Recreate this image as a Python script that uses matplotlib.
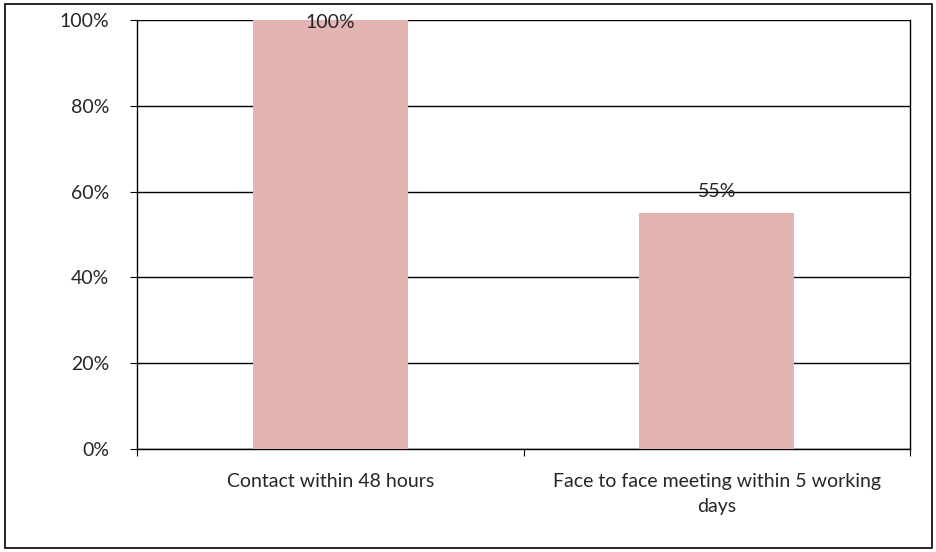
import matplotlib.pyplot as plt
from matplotlib.patches import Rectangle
from matplotlib.ticker import PercentFormatter

categories = ["Contact within 48 hours", "Face to face meeting within 5 working\ndays"]
values = [1.00, 0.55]
yticks = [0, 0.2, 0.4, 0.6, 0.8, 1.0]

plt.rcParams['font.family'] = ['Lato', 'DejaVu Sans']

fig = plt.figure(figsize=(9.37, 5.52), dpi=100)
# outer chart border
fig.patches.append(Rectangle((5 / 937, 4 / 552), 927 / 937, 544 / 552, transform=fig.transFigure,
                             fill=False, edgecolor='black', linewidth=1.2))

ax = fig.add_axes([137 / 937, 1 - 449 / 552, 773 / 937, 429 / 552])
x = list(range(len(categories)))
ax.bar(x, values, width=0.4, color='#E4B4B3', zorder=3)
ax.set_xlim(-0.5, 1.5)
ax.set_ylim(0, 1.0)

ax.set_yticks(yticks)
ax.yaxis.set_major_formatter(PercentFormatter(1.0, decimals=0))
ax.yaxis.grid(True, color='black', linewidth=1, zorder=1)
ax.set_axisbelow(True)

# category labels between boundary ticks
ax.set_xticks([-0.5, 0.5, 1.5])
ax.set_xticklabels([])
ax.set_xticks(x, minor=True)
ax.set_xticklabels(categories, minor=True, fontsize=14, color='#262626', linespacing=1.6)
ax.tick_params(axis='x', which='minor', length=0, pad=17)
ax.tick_params(axis='x', which='major', length=5, direction='out')
ax.tick_params(axis='y', length=5, direction='out', labelsize=14, labelcolor='#262626', pad=15)

ax.spines['top'].set_visible(False)
for s in ['left', 'right', 'bottom']:
    ax.spines[s].set_linewidth(1)
    ax.spines[s].set_color('black')

for xi, v in zip(x, values):
    ax.text(xi, min(v + 0.05, 0.995), f"{v:.0%}", ha='center', va='center',
            fontsize=14, color='#262626', zorder=4)

plt.savefig("out.png", dpi=100)
